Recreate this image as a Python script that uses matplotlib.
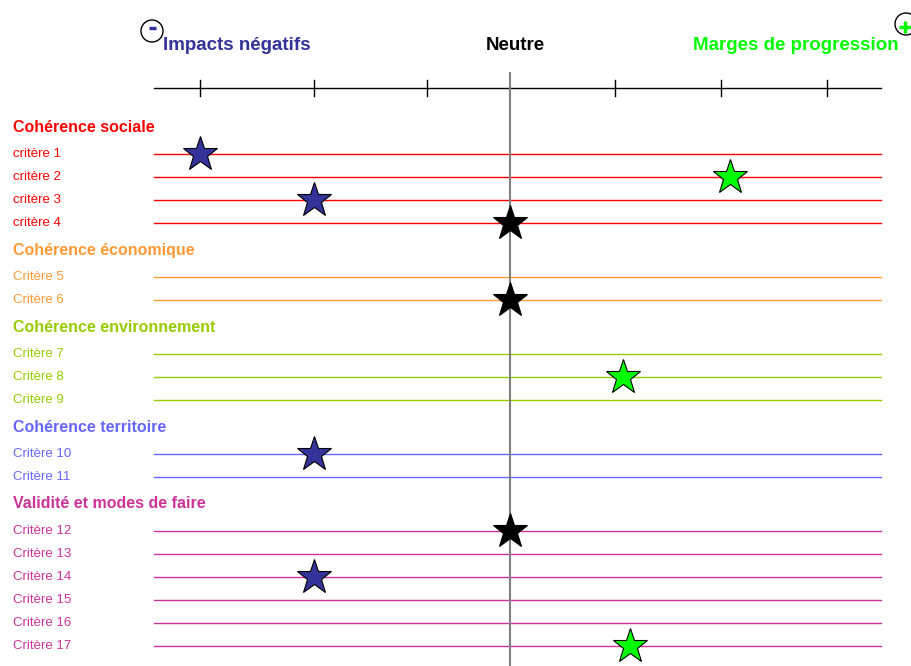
import matplotlib.pyplot as plt
from matplotlib.patches import Circle

plt.rcParams['font.family'] = ['Liberation Sans', 'DejaVu Sans']

# groups of criteria
groups = ["Cohérence sociale", "Cohérence économique", "Cohérence environnement",
          "Cohérence territoire", "Validité et modes de faire"]
group_colors = ["#ff0000", "#ff9933", "#99cc00", "#6666ff", "#cc3399"]
criteria = [
    ["critère 1", "critère 2", "critère 3", "critère 4"],
    ["Critère 5", "Critère 6"],
    ["Critère 7", "Critère 8", "Critère 9"],
    ["Critère 10", "Critère 11"],
    ["Critère 12", "Critère 13", "Critère 14", "Critère 15", "Critère 16", "Critère 17"],
]

# stars: criterion label, position on the scale, colour
star_criteria = ["critère 1", "critère 2", "critère 3", "critère 4", "Critère 6",
                 "Critère 8", "Critère 10", "Critère 12", "Critère 14", "Critère 17"]
star_pos = [200, 730, 314, 510, 510, 623, 314, 510, 314, 630]
star_colors = ["#333399", "#00ff00", "#333399", "black", "black",
               "#00ff00", "#333399", "black", "#333399", "#00ff00"]

# scale (pixel-like units across the figure)
scale_ticks = [200, 314, 427, 615, 721, 827]
neutral = 510
x_start, x_end = 154, 881

fig = plt.figure(figsize=(9.12, 6.66), dpi=100)
ax = fig.add_axes([0, 0, 1, 1])
ax.set_xlim(0, 912)
ax.set_ylim(666, 0)
ax.axis('off')

# top scale line
ax.plot([x_start, x_end], [88, 88], color='black', lw=1)
for t in scale_ticks:
    ax.plot([t, t], [80, 96], color='black', lw=1)
ax.plot([neutral, neutral], [73, 666], color='#808080', lw=1.5, zorder=2)

# titles
ax.text(163, 45, "Impacts négatifs", color='#333399', fontsize=13.5,
        fontweight='bold', va='center', ha='left')
ax.text(515, 45, "Neutre", color='black', fontsize=13.5,
        fontweight='bold', va='center', ha='center')
ax.text(899, 45, "Marges de progression", color='#00ff00', fontsize=13.5,
        fontweight='bold', va='center', ha='right')

# - and + circles
ax.add_patch(Circle((152, 31), 11, fill=False, ec='black', lw=1))
ax.plot([149, 156], [28, 28], color='#333399', lw=2.5, solid_capstyle='butt')
ax.add_patch(Circle((906, 24), 11, fill=False, ec='black', lw=1, clip_on=False))
ax.plot([899, 911], [27, 27], color='#00ff00', lw=2.5, solid_capstyle='butt')
ax.plot([905, 905], [21, 33], color='#00ff00', lw=2.5, solid_capstyle='butt')

# rows
row_y = {}
y = 127
for g, col, crits in zip(groups, group_colors, criteria):
    ax.text(13, y, g, color=col, fontsize=11.5, fontweight='bold', va='center')
    y += 27
    for c in crits:
        ax.text(13, y, c, color=col, fontsize=9.5, va='center')
        ax.plot([x_start, x_end], [y, y], color=col, lw=1, zorder=1)
        row_y[c] = y
        y += 23
    y += 4

for c, p, col in zip(star_criteria, star_pos, star_colors):
    ax.plot(p, row_y[c], marker='*', markersize=26, color=col,
            markeredgecolor='black', markeredgewidth=0.8, zorder=3)

fig.savefig("out.png", dpi=100)
